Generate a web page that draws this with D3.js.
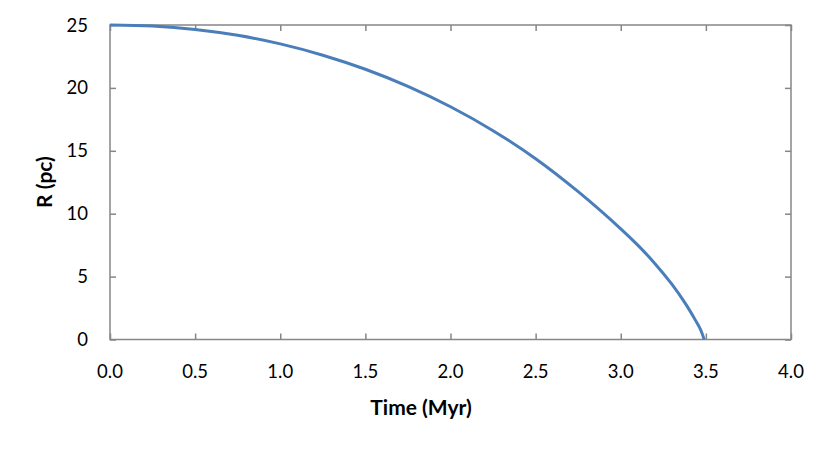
<!DOCTYPE html>
<html>
<head>
<meta charset="utf-8">
<script src="https://cdn.jsdelivr.net/npm/d3@7"></script>
<style>
  body { margin: 0; background: #fff; }
  text { font-family: Lato, "Open Sans", sans-serif; fill: #000; }
</style>
</head>
<body>
<div class="chart"></div>
<script>
// time in Myr, radius in pc
const times = [0, 0.25, 0.5, 0.75, 1.0, 1.25, 1.5, 1.75, 2.0, 2.25, 2.5, 2.75, 3.0, 3.1, 3.2, 3.3, 3.38, 3.44, 3.47, 3.49];
const radii = [25, 24.92, 24.65, 24.18, 23.5, 22.6, 21.48, 20.12, 18.5, 16.6, 14.37, 11.75, 8.8, 7.5, 6.05, 4.4, 2.85, 1.5, 0.75, 0];
const xTicks = [0, 0.5, 1, 1.5, 2, 2.5, 3, 3.5, 4];
const yTicks = [0, 5, 10, 15, 20, 25];

const width = 830, height = 449;
const plotL = 110, plotR = 791, plotT = 25, plotB = 339.5;

const svg = d3.select('.chart')
  .append('svg')
  .attr('width', width)
  .attr('height', height);

const x = d3.scaleLinear().domain([0, 4]).range([plotL, plotR]);
const y = d3.scaleLinear().domain([0, 25]).range([plotB, plotT]);

const frame = '#868686';

// inward ticks on all four sides
svg.append('g')
  .attr('transform', `translate(0,${plotB})`)
  .call(d3.axisBottom(x).tickValues(xTicks).tickSize(-6).tickFormat(''))
  .call(g => g.select('.domain').remove());
svg.append('g')
  .attr('transform', `translate(0,${plotT})`)
  .call(d3.axisTop(x).tickValues(xTicks).tickSize(-6).tickFormat(''))
  .call(g => g.select('.domain').remove());
svg.append('g')
  .attr('transform', `translate(${plotL},0)`)
  .call(d3.axisLeft(y).tickValues(yTicks).tickSize(-6).tickFormat(''))
  .call(g => g.select('.domain').remove());
svg.append('g')
  .attr('transform', `translate(${plotR},0)`)
  .call(d3.axisRight(y).tickValues(yTicks).tickSize(-6).tickFormat(''))
  .call(g => g.select('.domain').remove());

svg.selectAll('.tick line').attr('stroke', frame).attr('stroke-width', 1.5);

svg.append('rect')
  .attr('x', plotL).attr('y', plotT)
  .attr('width', plotR - plotL).attr('height', plotB - plotT)
  .attr('fill', 'none')
  .attr('stroke', frame)
  .attr('stroke-width', 1.5);

// tick labels
svg.selectAll('.xlab')
  .data(xTicks)
  .enter().append('text')
  .attr('x', d => x(d))
  .attr('y', 378)
  .attr('text-anchor', 'middle')
  .attr('font-size', '18.5px')
  .text(d => d.toFixed(1));

svg.selectAll('.ylab')
  .data(yTicks)
  .enter().append('text')
  .attr('x', 88)
  .attr('y', d => y(d) + 6.5)
  .attr('text-anchor', 'end')
  .attr('font-size', '18.5px')
  .text(d => d);

// axis titles
svg.append('text')
  .attr('x', 421)
  .attr('y', 415)
  .attr('text-anchor', 'middle')
  .attr('font-size', '21px')
  .attr('font-weight', 'bold')
  .text('Time (Myr)');

svg.append('text')
  .attr('transform', 'translate(52,182) rotate(-90)')
  .attr('text-anchor', 'middle')
  .attr('font-size', '21px')
  .attr('font-weight', 'bold')
  .text('R (pc)');

// curve
const pts = times.map((t, i) => [t, radii[i]]);
const line = d3.line()
  .x(d => x(d[0]))
  .y(d => y(d[1]))
  .curve(d3.curveCatmullRom);

svg.append('path')
  .datum(pts)
  .attr('fill', 'none')
  .attr('stroke', '#4A7EBB')
  .attr('stroke-width', 3)
  .attr('d', line);
</script>
</body>
</html>
